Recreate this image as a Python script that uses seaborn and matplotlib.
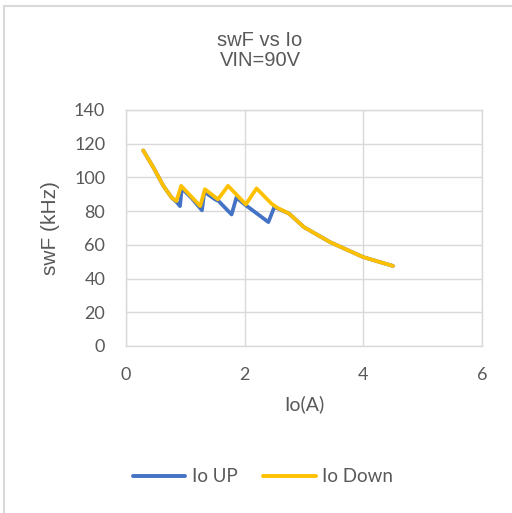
import matplotlib
matplotlib.use("Agg")
import matplotlib.pyplot as plt
import seaborn as sns
import pandas as pd
from matplotlib.patches import Rectangle

# Io UP (blue) readings
up_io = [0.29, 0.46, 0.63, 0.77, 0.85, 0.91, 0.94, 1.10, 1.28, 1.32, 1.50, 1.56, 1.78, 1.86, 2.00, 2.40, 2.50, 2.75, 3.00, 3.44, 4.00, 4.50]
up_swf = [116, 106, 95, 88, 85.5, 83, 93.5, 88, 80.5, 91.5, 87, 86, 78, 88, 84, 73.5, 82.5, 78.5, 70.5, 61.6, 52.7, 47.5]

# Io Down (yellow) readings
down_io = [0.29, 0.46, 0.63, 0.77, 0.85, 0.93, 1.25, 1.33, 1.55, 1.72, 2.02, 2.20, 2.45, 2.55, 2.75, 3.00, 3.44, 4.00, 4.50]
down_swf = [116, 106, 95, 88, 86, 95, 83, 93, 87, 95, 84, 93.5, 84.5, 82, 78.5, 70.5, 61.6, 52.7, 47.5]

up = pd.DataFrame({"Io": up_io, "swF": up_swf})
down = pd.DataFrame({"Io": down_io, "swF": down_swf})

sns.set_style("white")
grey = "#595959"

fig = plt.figure(figsize=(5.12, 5.13), dpi=100)
ax = fig.add_axes([126 / 512, 1 - 346 / 513, 356 / 512, 236 / 513])

sns.lineplot(data=up, x="Io", y="swF", sort=False, ax=ax, color="#4472C4", linewidth=2.7, label="Io UP")
sns.lineplot(data=down, x="Io", y="swF", sort=False, ax=ax, color="#FFC000", linewidth=2.7, label="Io Down")

ax.set_xlim(0, 6)
ax.set_ylim(0, 140)
ax.set_xticks([0, 2, 4, 6])
ax.set_yticks(range(0, 141, 20))
ax.grid(True, color="#d9d9d9", linewidth=1.0)
ax.set_axisbelow(True)
for s in ax.spines.values():
    s.set_color("#d9d9d9")
    s.set_linewidth(1.0)
ax.tick_params(length=0, labelsize=13, labelcolor=grey, pad=15)
for lab in ax.get_xticklabels() + ax.get_yticklabels():
    lab.set_family("Lato")

ax.set_xlabel("Io(A)", fontsize=14, color=grey, family="Lato", labelpad=9)
ax.set_ylabel("swF (kHz)", fontsize=15, color=grey, family="Liberation Sans", labelpad=10)

fig.text(0.508, 1 - 40 / 513, "swF vs Io", ha="center", va="center", fontsize=14.5, color=grey, family="Liberation Sans")
fig.text(0.508, 1 - 60 / 513, "VIN=90V", ha="center", va="center", fontsize=14.5, color=grey, family="Liberation Sans")

leg = ax.legend(loc="center", bbox_to_anchor=(263 / 512, 1 - 477 / 513), bbox_transform=fig.transFigure,
                ncol=2, frameon=False, handlelength=2.8, columnspacing=1.35, handletextpad=0.35,
                prop={"family": "Lato", "size": 13.5})
for t in leg.get_texts():
    t.set_color(grey)
for h in leg.get_lines():
    h.set_linewidth(2.8)

fig.patches.append(Rectangle((3.5 / 512, -0.01), 1.1, 1 - 4 / 513 + 0.01 - 1.5 / 513, transform=fig.transFigure,
                             fill=False, edgecolor="#d9d9d9", linewidth=1.5))

fig.savefig("out.png", dpi=100)
